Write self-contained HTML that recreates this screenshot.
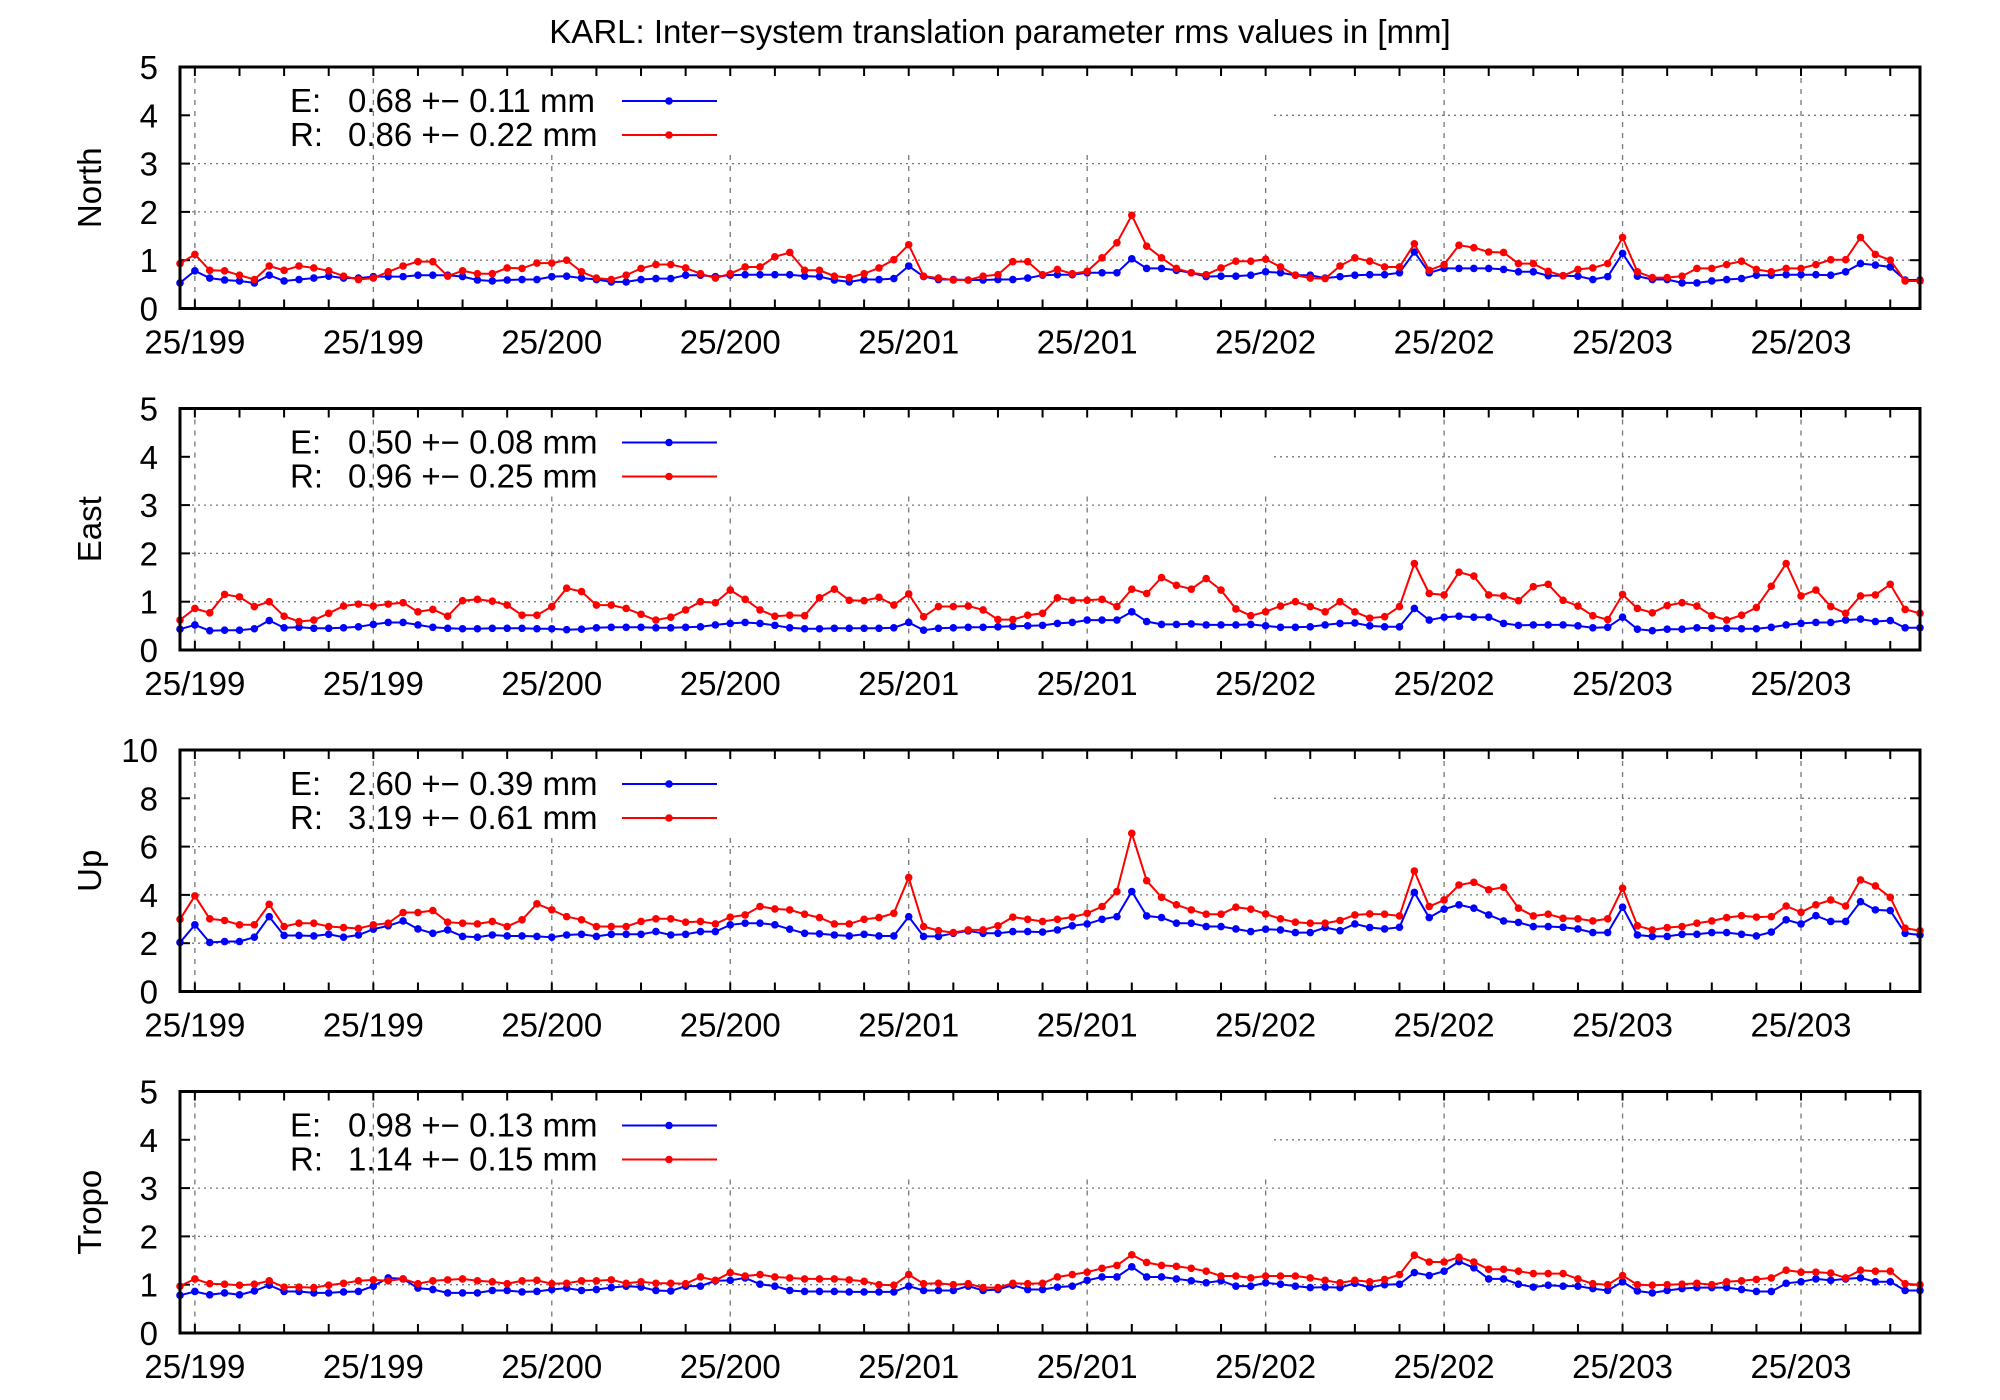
<!DOCTYPE html>
<html><head><meta charset="utf-8"><style>
html,body{margin:0;padding:0;background:#fff;}
svg{display:block;font-family:"Liberation Sans",Arial,sans-serif;}
</style></head><body>
<svg id="chart" width="2000" height="1400" viewBox="0 0 2000 1400" xmlns="http://www.w3.org/2000/svg">
<rect width="2000" height="1400" fill="#fff"/>
<text x="1000" y="43" text-anchor="middle" font-size="33">KARL: Inter−system translation parameter rms values in [mm]</text>
</svg>
<script>
const xTickLabels=["25/199","25/199","25/200","25/200","25/201","25/201","25/202","25/202","25/203","25/203"];
const panelNames=["North","East","Up","Tropo"];
const panelMax=[5,5,10,5];
const panelStep=[1,1,2,1];
const legendE=["0.68 +− 0.11 mm","0.50 +− 0.08 mm","2.60 +− 0.39 mm","0.98 +− 0.13 mm"];
const legendR=["0.86 +− 0.22 mm","0.96 +− 0.25 mm","3.19 +− 0.61 mm","1.14 +− 0.15 mm"];
const northE=[0.53,0.78,0.63,0.59,0.57,0.53,0.69,0.57,0.6,0.63,0.67,0.63,0.63,0.66,0.66,0.66,0.69,0.69,0.69,0.66,0.59,0.57,0.59,0.6,0.6,0.66,0.67,0.63,0.6,0.55,0.55,0.6,0.62,0.62,0.69,0.69,0.66,0.69,0.70,0.70,0.70,0.70,0.67,0.66,0.59,0.55,0.6,0.6,0.62,0.88,0.66,0.6,0.6,0.59,0.59,0.6,
0.6,0.63,0.69,0.70,0.70,0.74,0.74,0.74,1.03,0.83,0.83,0.79,0.74,0.66,0.67,0.67,0.69,0.76,0.74,0.69,0.69,0.63,0.66,0.69,0.70,0.70,0.74,1.17,0.74,0.83,0.83,0.83,0.83,0.81,0.76,0.76,0.68,0.68,0.67,0.6,0.66,1.14,0.67,0.6,0.6,0.53,0.53,0.57,0.6,0.62,0.69,0.69,0.70,0.70,0.70,0.69,0.76,0.93,0.90,0.86,0.59,0.59];
const northR=[0.93,1.12,0.79,0.78,0.69,0.6,0.88,0.79,0.88,0.84,0.78,0.67,0.6,0.63,0.76,0.88,0.97,0.97,0.67,0.78,0.72,0.72,0.84,0.83,0.94,0.94,1.0,0.76,0.63,0.6,0.69,0.83,0.91,0.91,0.84,0.72,0.63,0.72,0.86,0.86,1.07,1.16,0.79,0.79,0.67,0.64,0.72,0.84,1.01,1.32,0.67,0.63,0.59,0.59,0.67,0.70,
0.97,0.97,0.70,0.81,0.72,0.77,1.05,1.36,1.93,1.29,1.05,0.83,0.74,0.70,0.84,0.98,0.98,1.02,0.86,0.69,0.63,0.62,0.88,1.05,0.98,0.86,0.86,1.34,0.79,0.91,1.31,1.26,1.17,1.16,0.93,0.93,0.77,0.68,0.81,0.84,0.93,1.47,0.76,0.64,0.64,0.67,0.83,0.83,0.91,0.98,0.81,0.76,0.83,0.83,0.91,1.01,1.01,1.47,1.12,1.0,0.57,0.57];
const eastE=[0.43,0.52,0.40,0.41,0.41,0.44,0.61,0.46,0.47,0.45,0.45,0.46,0.48,0.53,0.57,0.57,0.52,0.47,0.45,0.44,0.44,0.45,0.45,0.45,0.44,0.44,0.42,0.43,0.46,0.47,0.47,0.47,0.46,0.46,0.47,0.48,0.52,0.55,0.57,0.55,0.51,0.46,0.44,0.44,0.45,0.45,0.45,0.45,0.46,0.57,0.41,0.45,0.46,0.47,0.47,0.48,0.49,0.50,0.51,
0.55,0.57,0.62,0.62,0.62,0.79,0.59,0.53,0.53,0.54,0.52,0.52,0.52,0.53,0.50,0.47,0.47,0.48,0.52,0.55,0.56,0.50,0.48,0.48,0.86,0.62,0.68,0.70,0.68,0.68,0.55,0.51,0.52,0.52,0.52,0.50,0.46,0.47,0.68,0.43,0.40,0.43,0.43,0.46,0.45,0.45,0.44,0.44,0.47,0.52,0.55,0.57,0.57,0.62,0.64,0.59,0.61,0.46,0.46];
const eastR=[0.62,0.86,0.77,1.15,1.10,0.90,1.0,0.70,0.59,0.62,0.76,0.91,0.95,0.91,0.95,0.98,0.79,0.84,0.70,1.02,1.05,1.01,0.93,0.72,0.72,0.90,1.28,1.21,0.93,0.93,0.86,0.74,0.62,0.68,0.83,1.0,0.98,1.24,1.05,0.83,0.70,0.72,0.71,1.08,1.26,1.03,1.02,1.09,0.93,1.16,0.69,0.90,0.90,0.91,0.83,0.63,0.63,0.72,0.76,
1.08,1.03,1.03,1.05,0.90,1.26,1.17,1.50,1.34,1.26,1.48,1.24,0.85,0.71,0.79,0.91,1.0,0.90,0.79,1.0,0.79,0.66,0.69,0.90,1.79,1.17,1.14,1.61,1.53,1.14,1.12,1.02,1.31,1.36,1.03,0.91,0.71,0.63,1.15,0.86,0.77,0.92,0.98,0.91,0.71,0.62,0.72,0.88,1.32,1.79,1.12,1.24,0.90,0.76,1.12,1.14,1.36,0.84,0.76];
const upE=[2.03,2.76,2.03,2.07,2.07,2.25,3.10,2.32,2.32,2.30,2.37,2.25,2.34,2.58,2.72,2.92,2.59,2.41,2.55,2.28,2.25,2.34,2.30,2.30,2.28,2.25,2.34,2.37,2.28,2.37,2.37,2.37,2.48,2.34,2.37,2.48,2.48,2.76,2.83,2.83,2.76,2.58,2.41,2.39,2.34,2.30,2.37,2.30,2.30,3.10,2.28,2.28,2.41,2.51,2.41,2.41,2.48,2.48,2.46,
2.55,2.72,2.80,2.99,3.10,4.14,3.13,3.06,2.83,2.83,2.69,2.69,2.59,2.48,2.58,2.55,2.44,2.44,2.65,2.52,2.80,2.65,2.59,2.66,4.10,3.06,3.41,3.59,3.45,3.17,2.92,2.86,2.69,2.69,2.66,2.59,2.44,2.44,3.49,2.34,2.28,2.28,2.37,2.37,2.44,2.44,2.37,2.30,2.46,2.97,2.80,3.14,2.90,2.90,3.72,3.38,3.35,2.41,2.34];
const upR=[2.99,3.96,3.01,2.94,2.76,2.76,3.61,2.69,2.83,2.83,2.69,2.65,2.61,2.76,2.83,3.27,3.27,3.35,2.87,2.83,2.80,2.90,2.69,2.97,3.63,3.38,3.10,2.97,2.69,2.69,2.69,2.90,3.01,3.01,2.87,2.90,2.80,3.08,3.17,3.52,3.42,3.38,3.20,3.06,2.80,2.80,2.99,3.06,3.24,4.72,2.69,2.52,2.44,2.55,2.55,2.72,3.08,2.99,2.90,
2.99,3.08,3.24,3.52,4.14,6.55,4.59,3.90,3.59,3.38,3.20,3.20,3.49,3.41,3.21,3.01,2.87,2.83,2.83,2.94,3.17,3.21,3.20,3.13,4.99,3.52,3.79,4.41,4.52,4.21,4.32,3.45,3.13,3.20,3.03,3.01,2.92,3.01,4.28,2.72,2.55,2.65,2.69,2.83,2.92,3.06,3.14,3.08,3.10,3.54,3.28,3.59,3.79,3.54,4.62,4.37,3.90,2.62,2.52];
const tropoE=[0.78,0.86,0.79,0.83,0.79,0.87,0.99,0.86,0.86,0.83,0.83,0.85,0.86,0.97,1.14,1.12,0.93,0.90,0.83,0.83,0.83,0.88,0.88,0.85,0.86,0.90,0.93,0.88,0.90,0.94,0.97,0.95,0.88,0.87,0.97,0.97,1.08,1.09,1.14,1.01,0.97,0.88,0.86,0.86,0.86,0.85,0.85,0.85,0.85,0.97,0.88,0.88,0.88,0.97,0.88,0.90,0.99,0.90,0.90,
0.95,0.97,1.09,1.16,1.16,1.37,1.16,1.16,1.12,1.08,1.04,1.08,0.97,0.97,1.04,1.01,0.97,0.94,0.95,0.94,1.03,0.94,1.0,1.01,1.25,1.19,1.28,1.48,1.35,1.12,1.12,1.01,0.95,0.99,0.97,0.97,0.92,0.88,1.06,0.87,0.83,0.88,0.92,0.94,0.94,0.94,0.90,0.86,0.86,1.03,1.06,1.12,1.09,1.12,1.14,1.06,1.06,0.88,0.88];
const tropoR=[0.97,1.12,1.02,1.01,0.99,1.01,1.08,0.95,0.95,0.94,0.99,1.03,1.08,1.10,1.08,1.12,1.02,1.08,1.10,1.12,1.08,1.06,1.02,1.08,1.09,1.02,1.03,1.08,1.08,1.10,1.03,1.06,1.03,1.03,1.02,1.16,1.09,1.25,1.18,1.21,1.16,1.14,1.12,1.12,1.12,1.10,1.07,1.0,0.99,1.21,1.02,1.03,1.0,1.02,0.94,0.94,1.03,1.02,1.03,
1.16,1.21,1.26,1.34,1.40,1.62,1.46,1.40,1.38,1.34,1.28,1.18,1.18,1.14,1.18,1.18,1.18,1.14,1.09,1.04,1.09,1.06,1.11,1.21,1.61,1.47,1.47,1.57,1.47,1.32,1.32,1.28,1.23,1.23,1.23,1.12,1.02,1.0,1.19,1.0,0.99,1.0,1.01,1.03,1.0,1.06,1.08,1.11,1.14,1.30,1.26,1.26,1.24,1.14,1.30,1.28,1.28,1.02,1.0];

const seriesE=[northE,eastE,upE,tropoE];
const seriesR=[northR,eastR,upR,tropoR];

const NS="http://www.w3.org/2000/svg";
const svg=document.getElementById('chart');
const L=180,R=1920,H=241.5;
const tops=[67,408.5,750,1091.5];
function mk(tag,attrs,parent){const e=document.createElementNS(NS,tag);for(const k in attrs)e.setAttribute(k,attrs[k]);(parent||svg).appendChild(e);return e;}

tops.forEach((T,p)=>{
  const g=mk('g',{});
  
  
  const n=seriesE[p].length;
  const xs=i=>L+i*(R-L)/(n-1);
  const ys=v=>T+H-v/panelMax[p]*H;
  const B=T+H;
  // horizontal grid
  for(let v=panelStep[p];v<panelMax[p];v+=panelStep[p]){
    const y=ys(v);
    const x0=(v>=panelMax[p]*0.7)?1274:L;
    const gl=mk('line',{x1:x0,x2:R,y1:y,y2:y,stroke:'#777','stroke-width':1.3,'stroke-dasharray':'2,4'},g);
    
    
  }
  // vertical grid, ticks, labels
  for(let i=1;i<n;i+=3){
    const x=xs(i);const major=((i-1)%12===0);
    if(major){
      const k=(i-1)/12;
      const occl=(x>380&&x<1274);
      const vg=mk('line',{x1:x,x2:x,y1:occl?T+88:T,y2:B,stroke:'#777','stroke-width':1.3,'stroke-dasharray':'5,6'},g);
      
      
      const tl=mk('text',{x:x,y:B+45,'text-anchor':'middle','font-size':33},g);
      tl.textContent=xTickLabels[k];
      
      
    }
    mk('line',{x1:x,x2:x,y1:B,y2:B-9,stroke:'#000','stroke-width':2},g);
    mk('line',{x1:x,x2:x,y1:T,y2:T+9,stroke:'#000','stroke-width':2},g);
  }
  for(let v=0;v<=panelMax[p];v+=panelStep[p]){
    const y=ys(v);
    mk('line',{x1:L,x2:L+10,y1:y,y2:y,stroke:'#000','stroke-width':2},g);
    mk('line',{x1:R,x2:R-10,y1:y,y2:y,stroke:'#000','stroke-width':2},g);
    const yl=mk('text',{x:158,y:y+12,'text-anchor':'end','font-size':33},g);
    yl.textContent=String(v);
    
    
  }
  const at=mk('text',{transform:`translate(101,${T+H/2}) rotate(-90)`,'text-anchor':'middle','font-size':33},g);
  at.textContent=panelNames[p];
  
  
  // legend
  const leg=mk('g',{},g);
  
  
  [['E:',legendE[p],'#0000ff',34],['R:',legendR[p],'#ff0000',68]].forEach(([lab,val,col,dy])=>{
    const le=mk('g',{},leg);
    
    
    const t1=mk('text',{x:290,y:T+dy+11,'font-size':33},le);t1.textContent=lab;
    const t2=mk('text',{x:348,y:T+dy+11,'font-size':33},le);t2.textContent=val;
    mk('line',{x1:622,x2:717,y1:T+dy,y2:T+dy,stroke:col,'stroke-width':2},le);
    mk('circle',{cx:669,cy:T+dy,r:3.8,fill:col},le);
  });
  // series
  [[seriesE[p],'#0000ff','series-e'],[seriesR[p],'#ff0000','series-r']].forEach(([data,col,nm])=>{
    const sg=mk('g',{},g);
    
    
    const pts=data.map((v,i)=>xs(i).toFixed(1)+','+ys(v).toFixed(1)).join(' ');
    const pl=mk('polyline',{points:pts,fill:'none',stroke:col,'stroke-width':2},sg);
    
    
    data.forEach((v,i)=>{
      const c=mk('circle',{cx:xs(i),cy:ys(v),r:3.8,fill:col},sg);
      
      
    });
  });
  // frame
  const fr=mk('rect',{x:L,y:T,width:R-L,height:H,fill:'none',stroke:'#000','stroke-width':3},g);
  
  
});
</script>
</body></html>
